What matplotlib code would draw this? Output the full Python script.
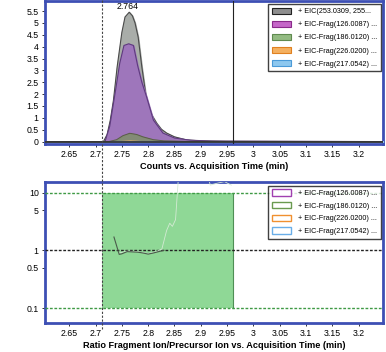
import matplotlib
matplotlib.use("Agg")
import matplotlib.pyplot as plt
from matplotlib.patches import Patch, Rectangle
from matplotlib.lines import Line2D
import matplotlib.transforms as mtransforms

plt.rcParams['font.family'] = ['Liberation Sans', 'DejaVu Sans']

# ---------------- data ----------------
x_ticks = [2.65, 2.7, 2.75, 2.8, 2.85, 2.9, 2.95, 3, 3.05, 3.1, 3.15, 3.2]
x_ticklabels = ["2.65", "2.7", "2.75", "2.8", "2.85", "2.9", "2.95", "3", "3.05", "3.1", "3.15", "3.2"]
top_yticks = [0, 0.5, 1, 1.5, 2, 2.5, 3, 3.5, 4, 4.5, 5, 5.5]
top_yticklabels = ["0", "0.5", "1", "1.5", "2", "2.5", "3", "3.5", "4", "4.5", "5", "5.5"]
bot_yticks = [0.1, 0.5, 1, 5, 10]
bot_yticklabels = ["0.1", "0.5", "1", "5", "10"]

prec_t = [2.60, 2.715, 2.722, 2.728, 2.734, 2.741, 2.750, 2.756, 2.764, 2.770, 2.775, 2.781,
          2.788, 2.797, 2.806, 2.816, 2.825, 2.835, 2.85, 2.873, 2.90, 2.95, 3.25]
prec_v = [0, 0, 0.3, 0.9, 1.74, 3.14, 4.6, 5.25, 5.45, 5.3, 5.0, 4.4,
          3.14, 1.74, 1.15, 0.78, 0.52, 0.36, 0.2, 0.07, 0.03, 0.01, 0]

f126_t = [2.60, 2.718, 2.727, 2.738, 2.746, 2.754, 2.763, 2.772, 2.780, 2.788, 2.797, 2.81,
          2.828, 2.85, 2.88, 2.92, 3.25]
f126_v = [0, 0, 0.65, 2.16, 3.3, 4.05, 4.12, 4.05, 3.2, 2.5, 1.88, 0.9,
          0.36, 0.15, 0.06, 0.02, 0]

f186_t = [2.60, 2.725, 2.74, 2.752, 2.765, 2.778, 2.79, 2.81, 2.83, 2.87, 3.25]
f186_v = [0, 0, 0.08, 0.25, 0.35, 0.3, 0.2, 0.08, 0.03, 0.01, 0]

f226_t = [2.60, 2.735, 2.765, 2.80, 3.25]
f226_v = [0, 0, 0.04, 0, 0]

f217_t = [2.60, 2.735, 2.765, 2.80, 3.25]
f217_v = [0, 0, 0.02, 0, 0]

peak_time = 2.764
peak_label = "2.764"

ratio_a_t = [2.735, 2.745, 2.75, 2.76, 2.77, 2.78, 2.79, 2.80, 2.81, 2.82, 2.83]
ratio_a_v = [1.7, 0.85, 0.87, 0.95, 0.94, 0.93, 0.9, 0.86, 0.9, 0.95, 1.0]
ratio_b_t = [2.745, 2.76, 2.78, 2.80, 2.815, 2.826, 2.835, 2.841, 2.846, 2.852, 2.86, 2.905,
             2.918, 2.93, 2.945, 2.958]
ratio_b_v = [0.9, 0.97, 0.95, 0.88, 0.95, 1.05, 2.2, 2.95, 2.6, 3.4, 40, 40,
             13.5, 14.5, 15.5, 13.5]

window_start = 2.712
window_end = 2.962
ratio_low = 0.1
ratio_high = 10
ratio_expected = 1

legend_top = ["+ EIC(253.0309, 255...", "+ EIC-Frag(126.0087) ...", "+ EIC-Frag(186.0120) ...",
              "+ EIC-Frag(226.0200) ...", "+ EIC-Frag(217.0542) ..."]
legend_bot = ["+ EIC-Frag(126.0087) ...", "+ EIC-Frag(186.0120) ...",
              "+ EIC-Frag(226.0200) ...", "+ EIC-Frag(217.0542) ..."]

# ---------------- style ----------------
spine_col = '#3d4fb4'
gray_fill, gray_edge = '#a9ada9', '#4a4a4a'
purp_fill, purp_edge = '#9e76bb', '#5e3a7e'
green_fill, green_edge = '#7f8f6a', '#5a5a4a'
orange_fill, blue_fill = '#f4b060', '#8ec8ef'
fs = 6.3

fig = plt.figure(figsize=(3.86, 3.52), dpi=100)
ax1 = fig.add_axes([0.1166, 0.591, 0.8754, 0.406])
ax2 = fig.add_axes([0.1166, 0.0824, 0.8754, 0.4006])

xlim = (2.604, 3.246)

for ax in (ax1, ax2):
    ax.set_xlim(*xlim)
    for s in ax.spines.values():
        s.set_color(spine_col)
        s.set_linewidth(2)
    ax.set_xticks(x_ticks)
    ax.set_xticklabels(x_ticklabels)
    ax.tick_params(axis='both', direction='out', length=2.5, width=0.7, color='#333333',
                   labelsize=fs, pad=2)

# top chart
ax1.fill_between(prec_t, prec_v, color=gray_fill, zorder=2)
ax1.plot(prec_t, prec_v, color=gray_edge, lw=0.8, zorder=3)
ax1.fill_between(f126_t, f126_v, color=purp_fill, zorder=4)
ax1.plot(f126_t, f126_v, color=purp_edge, lw=0.8, zorder=5)
ax1.fill_between(f186_t, f186_v, color=green_fill, alpha=0.85, zorder=6)
ax1.plot(f186_t, f186_v, color=green_edge, lw=0.7, zorder=7)
ax1.fill_between(f226_t, f226_v, color=orange_fill, zorder=6)
ax1.fill_between(f217_t, f217_v, color=blue_fill, zorder=6)
ax1.axhline(0, color='#333333', lw=1.3, zorder=8)
ax1.axvline(window_end, color='#222222', lw=0.8, zorder=9)
ax1.text(peak_time - 0.004, max(prec_v) + 0.05, peak_label, ha='center', va='bottom',
         fontsize=fs, zorder=10)
ax1.set_ylim(-0.1, 5.92)
ax1.set_yticks(top_yticks)
ax1.set_yticklabels(top_yticklabels)
ax1.set_xlabel("Counts vs. Acquisition Time (min)", fontsize=fs + 0.3, fontweight='bold',
               labelpad=2)

handles1 = [Patch(facecolor='#8e8e8e', edgecolor='#222222', lw=0.8),
            Patch(facecolor='#c567c8', edgecolor='#8a2a8a', lw=0.8),
            Patch(facecolor='#93bb82', edgecolor='#5f8a4f', lw=0.8),
            Patch(facecolor=orange_fill, edgecolor='#e08020', lw=0.8),
            Patch(facecolor=blue_fill, edgecolor='#4a9ad8', lw=0.8)]
leg1 = ax1.legend(handles1, legend_top, loc='upper right', bbox_to_anchor=(0.998, 0.99),
                  fontsize=5.2, frameon=True, fancybox=False, edgecolor='#111111',
                  handlelength=2.6, handleheight=1.0, borderpad=0.5, labelspacing=0.75,
                  handletextpad=1.0, borderaxespad=0.2)
leg1.get_frame().set_linewidth(1.0)
leg1.set_zorder(20)

# bottom chart
ax2.set_yscale('log')
ax2.set_ylim(0.055, 15.3)
ax2.add_patch(Rectangle((window_start, ratio_low), window_end - window_start,
                        ratio_high - ratio_low, facecolor='#8fd896', edgecolor='none', zorder=1))
ax2.plot([window_end, window_end], [ratio_low, ratio_high], color='#4f8f55', lw=0.8, zorder=2)
ax2.axhline(ratio_high, color='#3f9a45', lw=1.0, ls=(0, (2, 1.2)), zorder=3)
ax2.axhline(ratio_low, color='#3f9a45', lw=1.0, ls=(0, (2, 1.2)), zorder=3)
ax2.axhline(ratio_expected, color='#222222', lw=1.0, ls=(0, (2, 1.2)), zorder=3)
ax2.plot(ratio_b_t, ratio_b_v, color='#d4ead4', lw=0.6, zorder=4)
ax2.plot(ratio_a_t, ratio_a_v, color='#4a5a4a', lw=0.8, zorder=5)
ax2.set_yticks(bot_yticks)
ax2.set_yticklabels(bot_yticklabels)
ax2.minorticks_off()
ax2.set_xlabel("Ratio Fragment Ion/Precursor Ion vs. Acquisition Time (min)",
               fontsize=fs + 0.3, fontweight='bold', labelpad=2)

handles2 = [Patch(facecolor='white', edgecolor='#a040b0', lw=1.0),
            Patch(facecolor='white', edgecolor='#6a9a50', lw=1.0),
            Patch(facecolor='white', edgecolor='#f09030', lw=1.0),
            Patch(facecolor='white', edgecolor='#6aaee8', lw=1.0)]
leg2 = ax2.legend(handles2, legend_bot, loc='upper right', bbox_to_anchor=(0.998, 0.985),
                  fontsize=5.2, frameon=True, fancybox=False, edgecolor='#111111',
                  handlelength=2.6, handleheight=1.0, borderpad=0.5, labelspacing=0.7,
                  handletextpad=1.0, borderaxespad=0.2)
leg2.get_frame().set_linewidth(1.0)
leg2.set_zorder(20)

# dashed start-of-window line across both panels
trans = mtransforms.blended_transform_factory(ax1.transData, fig.transFigure)
fig.add_artist(Line2D([window_start, window_start], [0.065, 1.0], transform=trans,
                      color='#444444', lw=0.8, ls=(0, (2, 1.5)), zorder=30))

fig.savefig("out.png", dpi=100)
